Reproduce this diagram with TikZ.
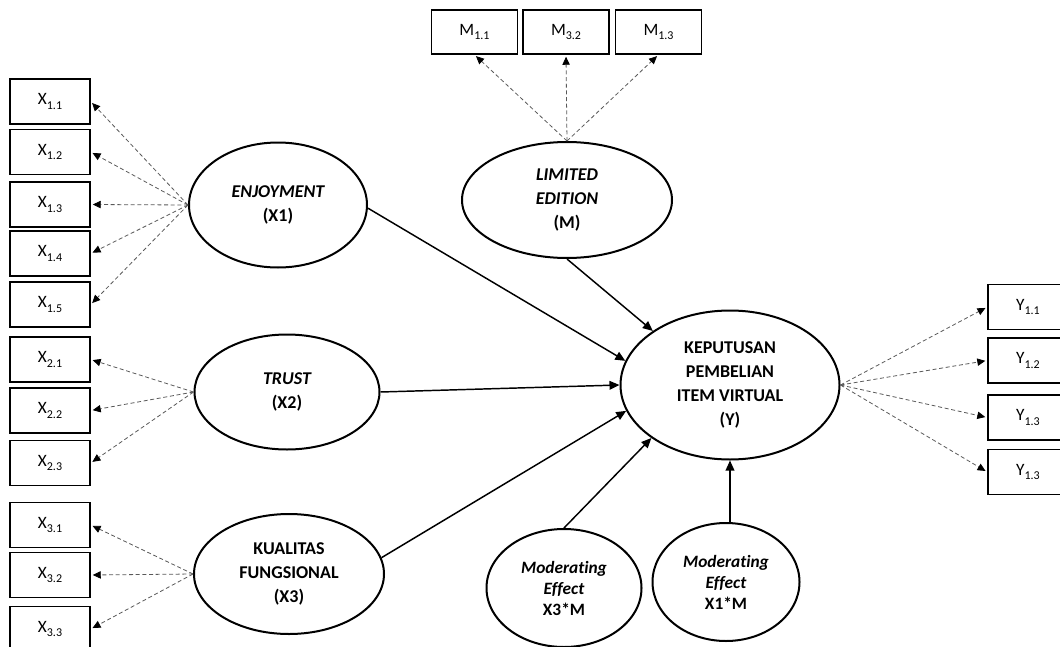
\documentclass[tikz,border=0pt]{standalone}
\usepackage{fontspec}
\setmainfont[Ligatures={NoCommon}]{Carlito}
\usetikzlibrary{shapes.geometric,arrows.meta}
% indicator label with lowered small index
\newcommand{\ind}[2]{#1\raisebox{-0.55ex}{\fontsize{9pt}{10pt}\selectfont #2}}
\begin{document}
\begin{tikzpicture}[x=0.75pt,y=-0.75pt,
  indbox/.style={draw,line width=1.1pt,minimum width=60pt,minimum height=33.75pt,
    inner sep=0pt,font=\fontsize{13pt}{14pt}\selectfont},
  mbox/.style={indbox,minimum width=64.5pt,minimum height=33pt},
  latent/.style={ellipse,draw,line width=1.5pt,inner sep=0pt,align=center,
    font=\fontsize{13.5pt}{18pt}\selectfont\bfseries},
  modvar/.style={latent,font=\fontsize{13pt}{15.75pt}\selectfont\bfseries},
  loading/.style={draw=black!65,line width=0.6pt,dash pattern=on 3pt off 2pt,
    -{Triangle[length=6pt,width=5.5pt,color=black]},shorten >=1.5pt},
  path/.style={draw=black,line width=1.1pt,-{Triangle[length=7.5pt,width=6.5pt]}}
]
\useasboundingbox (0,0) rectangle (1060,646);

% latent constructs
\node[latent,minimum width=133.5pt,minimum height=93.75pt] (enj) at (278,205)
  {\itshape ENJOYMENT\\(X1)};
\node[latent,minimum width=138.75pt,minimum height=86.25pt] (tru) at (287,392)
  {\itshape TRUST\\(X2)};
\node[latent,minimum width=142.5pt,minimum height=90pt] (kua) at (289,574)
  {KUALITAS\\FUNGSIONAL\\(X3)};
\node[latent,minimum width=157.5pt,minimum height=87pt] (lim) at (567,200)
  {\itshape LIMITED\\\itshape EDITION\\(M)};
\node[latent,minimum width=164.25pt,minimum height=111.75pt] (kep) at (730,385)
  {KEPUTUSAN\\PEMBELIAN\\ITEM VIRTUAL\\(Y)};
\node[modvar,minimum width=116.25pt,minimum height=88.5pt] (m3) at (564,588)
  {\itshape Moderating\\\itshape Effect\\X3*M};
\node[modvar,minimum width=110.25pt,minimum height=88.5pt] (m1) at (726,582)
  {\itshape Moderating\\\itshape Effect\\X1*M};

% indicators of X1
\node[indbox] (x11) at (50,101.5) {\ind{X}{1.1}};
\node[indbox] (x12) at (50,152)   {\ind{X}{1.2}};
\node[indbox] (x13) at (50,204.5) {\ind{X}{1.3}};
\node[indbox] (x14) at (50,253.5) {\ind{X}{1.4}};
\node[indbox] (x15) at (50,304.5) {\ind{X}{1.5}};
% indicators of X2
\node[indbox] (x21) at (50,359.5) {\ind{X}{2.1}};
\node[indbox] (x22) at (50,410.5) {\ind{X}{2.2}};
\node[indbox] (x23) at (50,463)   {\ind{X}{2.3}};
% indicators of X3
\node[indbox] (x31) at (50,525)   {\ind{X}{3.1}};
\node[indbox] (x32) at (50,575)   {\ind{X}{3.2}};
\node[indbox] (x33) at (50,629)   {\ind{X}{3.3}};
% indicators of M
\node[mbox] (m11) at (474.5,32) {\ind{M}{1.1}};
\node[mbox] (m32) at (566,32)   {\ind{M}{3.2}};
\node[mbox] (m13) at (658.5,32) {\ind{M}{1.3}};
% indicators of Y
\node[indbox] (y11) at (1028,307)   {\ind{Y}{1.1}};
\node[indbox] (y12) at (1028,360.5) {\ind{Y}{1.2}};
\node[indbox] (y13) at (1028,417.5) {\ind{Y}{1.3}};
\node[indbox] (y14) at (1028,472)   {\ind{Y}{1.3}};

% loadings
\foreach \b in {x11,x12,x13,x14,x15} \path[loading] (enj.west) -- (\b.east);
\foreach \b in {x21,x22,x23} \path[loading] (tru.west) -- (\b.east);
\foreach \b in {x31,x32,x33} \path[loading] (kua.west) -- (\b.east);
\foreach \b in {m11,m32,m13} \path[loading] (lim.north) -- (\b.south);
\foreach \b in {y11,y12,y13,y14} \path[loading] (kep.east) -- (\b.west);

% structural paths
\path[path] (enj.-2) -- (kep.167);
\path[path] (lim.south) -- (kep.145);
\path[path] (tru.east) -- (kep.west);
\path[path] (kua.10) -- (kep.194);
\path[path] (m3.north) -- (kep.214);
\path[path] (kep.south |- m1.north) -- (kep.south);
\end{tikzpicture}
\end{document}
